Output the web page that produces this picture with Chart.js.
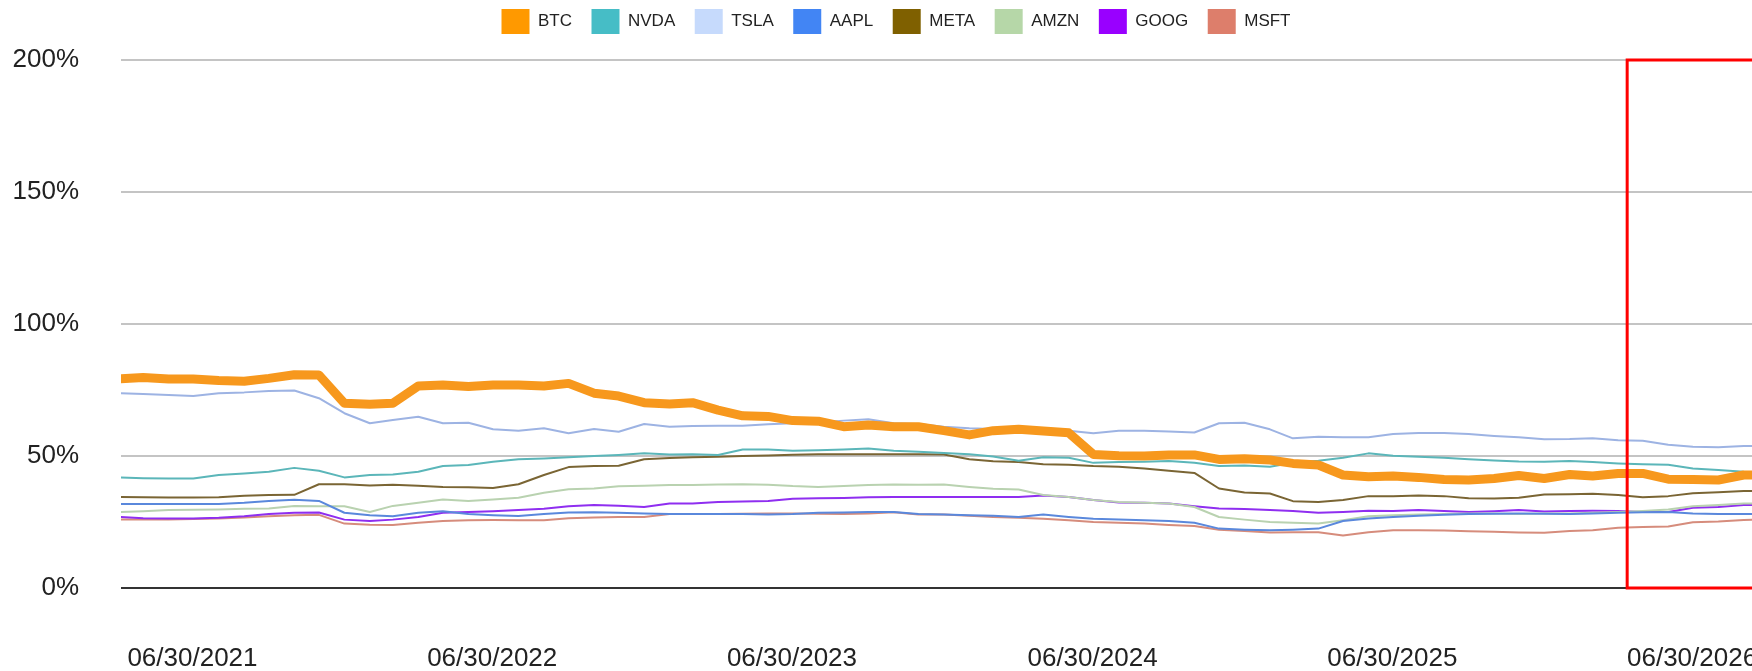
<!DOCTYPE html>
<html>
<head>
<meta charset="utf-8">
<script src="https://cdn.jsdelivr.net/npm/chart.js@4.4.1/dist/chart.umd.min.js"></script>
<style>
  html, body { margin: 0; background: #fff; }
  #wrap { width: 1752px; height: 671px; position: relative; }
</style>
</head>
<body>
<div id="wrap"><canvas id="chart"></canvas></div>
<script>
// monthly samples (first of month)
const MONTHS = [
  "2021-04", "2021-05", "2021-06", "2021-07", "2021-08", "2021-09", "2021-10", "2021-11", "2021-12",
  "2022-01", "2022-02", "2022-03", "2022-04", "2022-05", "2022-06", "2022-07", "2022-08", "2022-09", "2022-10", "2022-11", "2022-12",
  "2023-01", "2023-02", "2023-03", "2023-04", "2023-05", "2023-06", "2023-07", "2023-08", "2023-09", "2023-10", "2023-11", "2023-12",
  "2024-01", "2024-02", "2024-03", "2024-04", "2024-05", "2024-06", "2024-07", "2024-08", "2024-09", "2024-10", "2024-11", "2024-12",
  "2025-01", "2025-02", "2025-03", "2025-04", "2025-05", "2025-06", "2025-07", "2025-08", "2025-09", "2025-10", "2025-11", "2025-12",
  "2026-01", "2026-02", "2026-03", "2026-04", "2026-05", "2026-06", "2026-07", "2026-08", "2026-09", "2026-10"
];

const NAMES = ["BTC", "NVDA", "TSLA", "AAPL", "META", "AMZN", "GOOG", "MSFT"];

const BTC = [79.2, 79.7, 79.2, 79.2, 78.6, 78.3, 79.4, 80.8, 80.7, 70.0, 69.6, 70.0, 76.5, 76.9, 76.3, 76.9, 76.9,
  76.5, 77.5, 73.8, 72.7, 70.2, 69.7, 70.2, 67.4, 65.2, 65.0, 63.4, 63.2, 61.1, 61.7, 61.1, 61.1,
  59.6, 58.0, 59.6, 60.1, 59.5, 58.8, 50.6, 50.1, 50.0, 50.4, 50.4, 48.7, 49.0, 48.5, 47.2, 46.6,
  42.8, 42.1, 42.4, 41.9, 41.1, 40.9, 41.5, 42.6, 41.5, 43.0, 42.4, 43.4, 43.4, 41.2, 41.1, 40.9, 42.8, 42.9];
const NVDA = [41.9, 41.6, 41.5, 41.5, 42.8, 43.4, 44.0, 45.5, 44.4, 41.9, 42.8, 43.0, 44.0, 46.2, 46.6, 47.8, 48.8,
  49.1, 49.5, 50.0, 50.4, 51.0, 50.6, 50.7, 50.4, 52.5, 52.5, 52.0, 52.2, 52.5, 52.8, 52.0, 51.6,
  51.1, 50.7, 49.8, 48.2, 49.5, 49.3, 47.4, 47.7, 47.8, 48.1, 47.4, 46.2, 46.4, 45.9, 47.4, 48.2,
  49.3, 51.0, 50.1, 49.7, 49.3, 48.8, 48.3, 47.9, 47.8, 48.1, 47.7, 47.2, 46.9, 46.7, 45.3, 44.7, 44.0, 43.9];
const TSLA = [73.8, 73.5, 73.1, 72.7, 73.8, 74.1, 74.6, 74.8, 71.9, 66.2, 62.4, 63.6, 64.9, 62.4, 62.6, 60.1, 59.6,
  60.5, 58.6, 60.2, 59.2, 62.1, 61.1, 61.4, 61.5, 61.5, 62.0, 62.4, 62.7, 63.4, 63.9, 62.4, 62.1,
  61.1, 60.5, 60.2, 60.5, 60.3, 59.6, 58.6, 59.6, 59.6, 59.3, 58.9, 62.4, 62.6, 60.1, 56.7, 57.3,
  57.1, 57.1, 58.3, 58.7, 58.7, 58.3, 57.6, 57.1, 56.3, 56.4, 56.7, 56.0, 55.8, 54.3, 53.5, 53.3, 53.8, 53.8];
const AAPL = [31.8, 31.8, 31.8, 31.8, 31.8, 32.3, 33.0, 33.4, 33.0, 28.5, 27.6, 27.2, 28.5, 29.1, 28.0, 27.6, 27.3,
  28.0, 28.6, 28.7, 28.5, 28.2, 28.0, 28.0, 28.0, 28.0, 27.8, 28.0, 28.5, 28.6, 28.8, 28.8, 28.0,
  27.8, 27.6, 27.4, 26.9, 27.8, 26.9, 26.2, 25.9, 25.7, 25.4, 24.7, 22.5, 22.1, 21.9, 22.1, 22.5,
  25.4, 26.3, 26.9, 27.4, 27.7, 28.0, 28.1, 28.2, 28.1, 28.0, 28.2, 28.5, 28.7, 28.8, 28.2, 28.0, 28.0, 28.0];
const META = [34.5, 34.4, 34.3, 34.3, 34.4, 34.9, 35.2, 35.3, 39.3, 39.3, 38.8, 39.1, 38.7, 38.3, 38.2, 37.9, 39.3,
  42.8, 45.8, 46.2, 46.3, 48.8, 49.2, 49.5, 49.7, 50.0, 50.2, 50.5, 50.7, 50.7, 50.7, 50.7, 50.7,
  50.6, 48.8, 48.0, 47.7, 46.9, 46.7, 46.2, 45.9, 45.3, 44.4, 43.6, 37.7, 36.2, 35.8, 32.9, 32.6,
  33.3, 34.8, 34.8, 35.0, 34.8, 34.0, 33.9, 34.2, 35.4, 35.5, 35.7, 35.2, 34.4, 34.8, 35.9, 36.3, 36.7, 36.7];
const AMZN = [28.8, 29.1, 29.5, 29.6, 29.7, 30.0, 30.1, 31.1, 31.0, 31.0, 28.8, 31.1, 32.3, 33.5, 33.0, 33.5, 34.2,
  36.1, 37.4, 37.7, 38.5, 38.7, 39.0, 39.0, 39.2, 39.3, 39.1, 38.6, 38.3, 38.6, 39.0, 39.2, 39.1,
  39.2, 38.3, 37.6, 37.3, 35.2, 34.5, 33.3, 32.6, 32.3, 32.0, 30.7, 26.9, 25.9, 25.0, 24.7, 24.4,
  25.7, 27.2, 27.6, 27.8, 28.0, 28.2, 28.2, 28.0, 28.2, 28.2, 28.5, 28.8, 29.2, 29.7, 31.0, 31.4, 32.0, 32.0];
const GOOG = [26.9, 26.4, 26.3, 26.3, 26.6, 27.2, 28.0, 28.5, 28.6, 25.9, 25.4, 25.9, 26.9, 28.5, 28.8, 29.1, 29.5,
  30.0, 31.0, 31.4, 31.2, 30.7, 32.0, 32.0, 32.6, 32.8, 33.0, 33.8, 34.0, 34.1, 34.4, 34.5, 34.5,
  34.5, 34.5, 34.5, 34.5, 35.0, 34.5, 33.3, 32.4, 32.3, 32.0, 31.0, 30.1, 29.9, 29.5, 29.2, 28.5,
  28.8, 29.3, 29.2, 29.5, 29.2, 28.8, 29.1, 29.5, 29.0, 29.2, 29.3, 29.2, 28.8, 28.8, 30.4, 30.7, 31.4, 31.5];
const MSFT = [25.9, 25.9, 25.9, 26.1, 26.3, 26.7, 27.2, 27.6, 27.7, 24.4, 24.0, 23.9, 24.7, 25.4, 25.7, 25.8, 25.7,
  25.7, 26.4, 26.7, 26.9, 26.9, 28.0, 28.0, 28.0, 28.1, 28.2, 28.2, 28.1, 28.0, 28.2, 28.7, 27.8,
  27.8, 27.4, 26.9, 26.6, 26.2, 25.7, 25.0, 24.7, 24.4, 23.9, 23.5, 22.1, 21.6, 21.0, 21.1, 21.1,
  19.9, 21.1, 21.9, 21.9, 21.8, 21.5, 21.3, 21.0, 20.9, 21.6, 21.9, 22.8, 23.1, 23.3, 24.9, 25.2, 25.8, 25.9];

const SERIES = [BTC, NVDA, TSLA, AAPL, META, AMZN, GOOG, MSFT];
const LEGEND_COLORS = ["#ff9900", "#46bdc6", "#c6dafc", "#4285f4", "#7f6000", "#b6d7a8", "#9900ff", "#dd7e6b"];
const LINE_COLORS = ["#f7981d", "#5bb6b9", "#9db3e3", "#5a88dc", "#7a6534", "#b9d2b0", "#8f2ef0", "#d68c7c"];

const TICK_LABELS = ["06/30/2021", "06/30/2022", "06/30/2023", "06/30/2024", "06/30/2025", "06/30/2026"];
const X_MIN = "2021-04-04";
const X_MAX = "2026-09-11";
const BOX_START = "2026-04-12";

const FONT = "'Liberation Sans', Arial, sans-serif";

function utc(s) {
  const [y, m, d] = s.split("-").map(Number);
  return Date.UTC(y, m - 1, d || 1);
}
function fromLabel(s) {
  const [m, d, y] = s.split("/").map(Number);
  return Date.UTC(y, m - 1, d);
}

const datasets = NAMES.map((name, i) => ({
  label: name,
  data: SERIES[i].map((v, j) => ({ x: utc(MONTHS[j]), y: v })),
  borderColor: LINE_COLORS[i],
  backgroundColor: LEGEND_COLORS[i],
  borderWidth: i === 0 ? 9 : 2,
  borderJoinStyle: "round",
  pointRadius: 0,
  tension: 0,
}));

// red frame on the most recent period
const redBox = {
  id: "redBox",
  afterDatasetsDraw(chart) {
    const { ctx, scales: { x, y } } = chart;
    const left = x.getPixelForValue(utc(BOX_START));
    const top = y.getPixelForValue(200);
    const bottom = y.getPixelForValue(0);
    ctx.save();
    ctx.strokeStyle = "#ff0000";
    ctx.lineWidth = 3;
    ctx.strokeRect(left, top, chart.width + 20 - left, bottom - top);
    ctx.restore();
  },
};

// legend sits a bit right of centre, with a taller block above the plot
const legendGap = {
  id: "legendGap",
  beforeInit(chart) {
    const fit = chart.legend.fit;
    chart.legend.fit = function () {
      fit.call(this);
      this.height = 70.5;
    };
  },
  afterLayout(chart) {
    chart.legend.left += 40;
  },
};

new Chart(document.getElementById("chart"), {
  type: "line",
  data: { datasets },
  plugins: [legendGap, redBox],
  options: {
    responsive: true,
    maintainAspectRatio: false,
    animation: false,
    layout: { padding: { top: -10.5, left: 0, right: 0, bottom: 0 } },
    plugins: {
      tooltip: { enabled: false },
      legend: {
        position: "top",
        labels: {
          boxWidth: 28,
          boxHeight: 25,
          padding: 19.5,
          color: "#222",
          font: { family: FONT, size: 17 },
          generateLabels(chart) {
            const items = Chart.defaults.plugins.legend.labels.generateLabels(chart);
            items.forEach((it, i) => {
              it.fillStyle = LEGEND_COLORS[i];
              it.strokeStyle = LEGEND_COLORS[i];
              it.lineWidth = 0;
            });
            return items;
          },
        },
      },
    },
    scales: {
      x: {
        type: "linear",
        min: utc(X_MIN),
        max: utc(X_MAX),
        afterBuildTicks(scale) {
          scale.ticks = TICK_LABELS.map((l) => ({ value: fromLabel(l) }));
        },
        afterFit(scale) {
          scale.paddingLeft = 0;
          scale.paddingRight = 0;
          scale.height = 83;
        },
        ticks: {
          autoSkip: false,
          maxRotation: 0,
          padding: 47,
          color: "#222",
          font: { family: FONT, size: 26 },
          callback: (v, i) => TICK_LABELS[i],
        },
        grid: { display: false },
        border: { display: false },
      },
      y: {
        min: 0,
        max: 200,
        afterFit(scale) {
          scale.width = 121;
        },
        ticks: {
          stepSize: 50,
          padding: 42,
          color: "#222",
          font: { family: FONT, size: 26 },
          callback: (v) => v + "%",
        },
        grid: {
          drawTicks: false,
          lineWidth: 2,
          color: (c) => (c.tick && c.tick.value === 0 ? "#333" : "#c4c4c4"),
        },
        border: { display: false },
      },
    },
  },
});
</script>
</body>
</html>
